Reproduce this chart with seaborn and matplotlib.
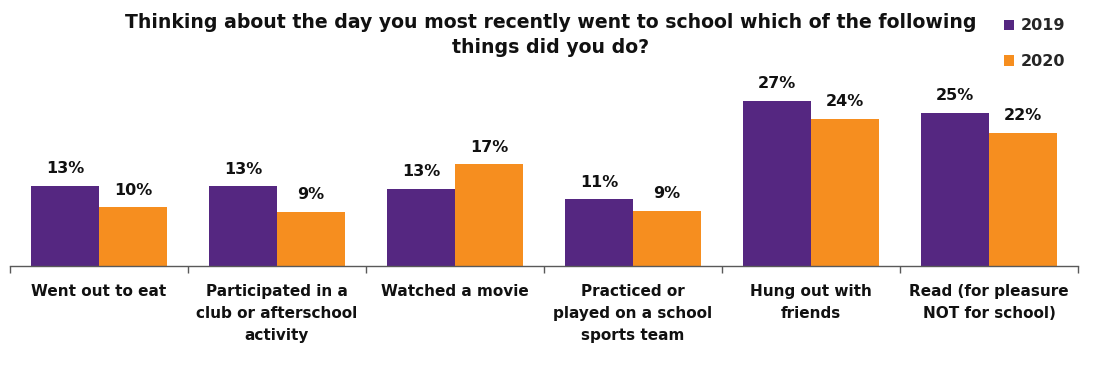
import matplotlib
matplotlib.use("Agg")
import matplotlib.pyplot as plt
import seaborn as sns
import pandas as pd
from matplotlib.patches import Patch

categories = [
    "Went out to eat",
    "Participated in a\nclub or afterschool\nactivity",
    "Watched a movie",
    "Practiced or\nplayed on a school\nsports team",
    "Hung out with\nfriends",
    "Read (for pleasure\nNOT for school)",
]
years = ["2019", "2020"]
values_2019 = [13.1, 13.0, 12.6, 10.9, 27.0, 25.0]
values_2020 = [9.6, 8.8, 16.6, 9.0, 24.1, 21.7]
labels_2019 = ["13%", "13%", "13%", "11%", "27%", "25%"]
labels_2020 = ["10%", "9%", "17%", "9%", "24%", "22%"]
title = "Thinking about the day you most recently went to school which of the following\nthings did you do?"

purple = "#552781"
orange = "#F68E1F"

df = pd.DataFrame({
    "category": categories * 2,
    "year": [years[0]] * len(categories) + [years[1]] * len(categories),
    "value": values_2019 + values_2020,
})

sns.set_theme(style="white")
plt.rcParams["font.family"] = ["DejaVu Sans"]

fig = plt.figure(figsize=(10.93, 3.73), dpi=100)
ax = fig.add_axes([10 / 1093, (373 - 266) / 373, 1068 / 1093, 183.6 / 373])

sns.barplot(data=df, x="category", y="value", hue="year", order=categories,
            hue_order=years, palette=[purple, orange], width=0.765,
            saturation=1, ax=ax, legend=False, linewidth=0, edgecolor="none")

for cont, labs in zip(ax.containers, [labels_2019, labels_2020]):
    ax.bar_label(cont, labels=labs, padding=7, fontsize=11.5, fontweight="bold",
                 color="#111111")

ax.set_xlim(-0.5, len(categories) - 0.5)
ax.set_ylim(0, 30)
ax.set_xlabel("")
ax.set_ylabel("")
ax.set_yticks([])
for s in ["left", "right", "top"]:
    ax.spines[s].set_visible(False)
ax.spines["bottom"].set_color("#595959")
ax.spines["bottom"].set_linewidth(1.0)

ax.set_xticks(range(len(categories)))
ax.set_xticklabels(categories, fontsize=11, fontweight="bold", color="#111111",
                   linespacing=1.6, va="top")
ax.tick_params(axis="x", which="major", length=0, pad=13)
ax.set_xticks([i - 0.5 for i in range(len(categories) + 1)], minor=True)
ax.tick_params(axis="x", which="minor", length=5, width=1.0, color="#595959",
               direction="out", bottom=True)

fig.text(551 / 1093, 1 - 35 / 373, title, ha="center", va="center",
         fontsize=13.6, fontweight="bold", color="#111111", linespacing=1.35)

handles = [Patch(facecolor=purple, edgecolor="none"), Patch(facecolor=orange, edgecolor="none")]
fig.legend(handles, years, loc="upper left", bbox_to_anchor=(998 / 1093, 1 - 12 / 373),
           frameon=False, prop={"weight": "bold", "size": 11.5},
           handlelength=0.6, handleheight=0.6, handletextpad=0.4, labelspacing=1.3,
           borderaxespad=0)

fig.savefig("out.png", dpi=100)
